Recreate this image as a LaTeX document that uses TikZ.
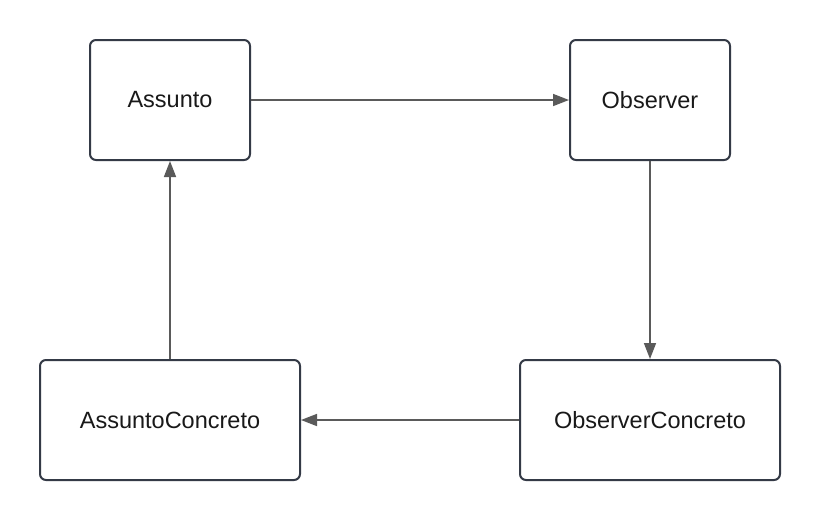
\documentclass[tikz,border=0pt]{standalone}
\usepackage{fontspec}
\setmainfont{Liberation Sans}
\usetikzlibrary{arrows.meta}
\definecolor{boxline}{RGB}{52,58,70}
\definecolor{arrowline}{RGB}{90,90,90}
\begin{document}
\begin{tikzpicture}[x=1pt,y=-1pt,
  box/.style={draw=boxline, line width=2pt, rounded corners=6pt, fill=white, inner sep=0pt, text=black!90, font=\fontsize{23.5}{28}\selectfont},
  conn/.style={draw=arrowline, line width=1.6pt, -{Triangle[length=16pt,width=12pt]}}]
\useasboundingbox (0,0) rectangle (820,520);
\fill[white] (0,0) rectangle (820,520);
\node[box, minimum width=160pt, minimum height=120pt] (a) at (170,100) {Assunto};
\node[box, minimum width=160pt, minimum height=120pt] (o) at (650,100) {Observer};
\node[box, minimum width=260pt, minimum height=120pt] (ac) at (170,420) {AssuntoConcreto};
\node[box, minimum width=260pt, minimum height=120pt] (oc) at (650,420) {ObserverConcreto};
\draw[conn] (a.east) -- (o.west);
\draw[conn] (o.south) -- (oc.north);
\draw[conn] (oc.west) -- (ac.east);
\draw[conn] (ac.north) -- (a.south);
\end{tikzpicture}
\end{document}
